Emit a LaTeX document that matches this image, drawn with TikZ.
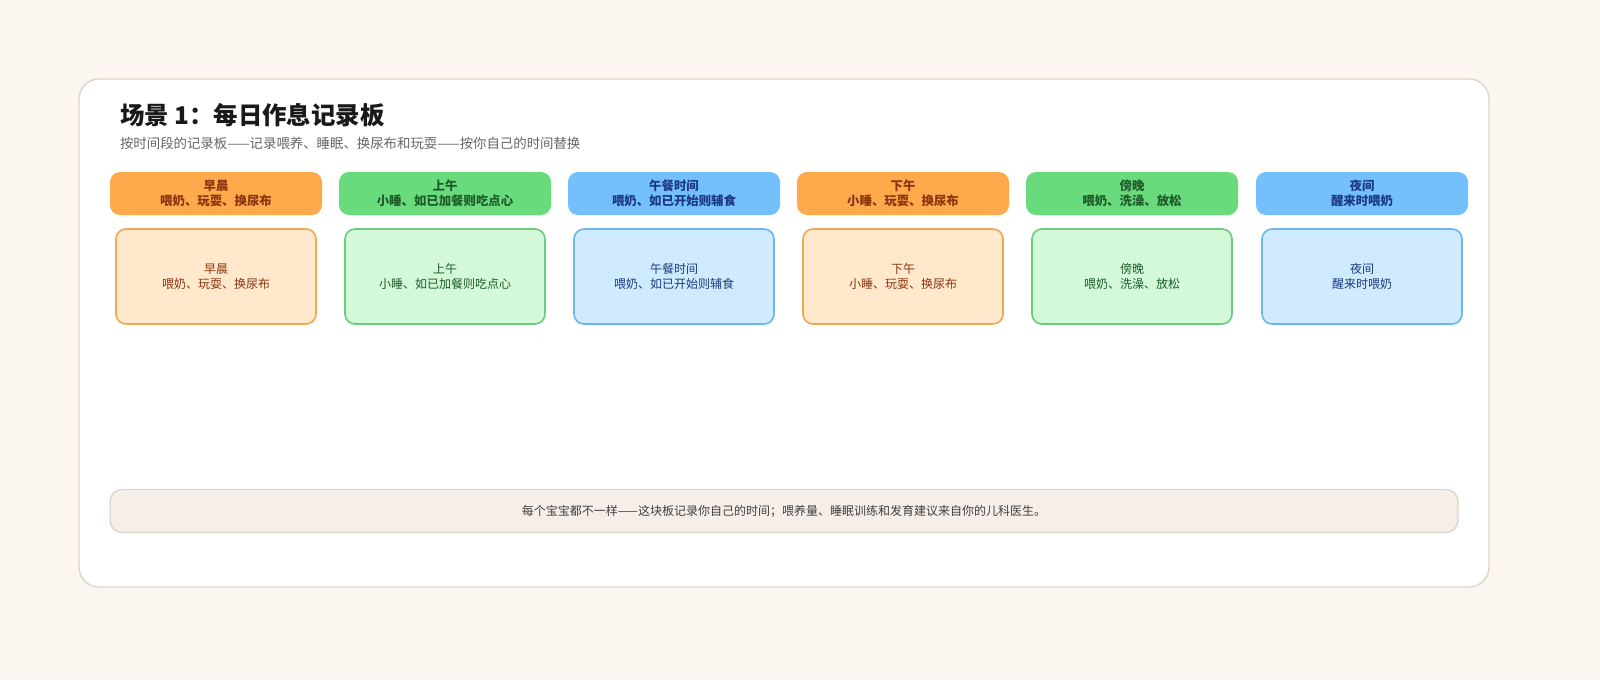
\documentclass[tikz,border=0pt]{standalone}
\usepackage{fontspec}
\setmainfont{Noto Sans CJK SC}
\definecolor{bg}{HTML}{FBF7F0}
\definecolor{pstroke}{HTML}{DDD5C8}
\definecolor{fbg}{HTML}{F5EFE8}
\definecolor{oh}{HTML}{FFA94D}\definecolor{oc}{HTML}{FFE8CC}\definecolor{os}{HTML}{F2A650}\definecolor{ot}{HTML}{8A3510}
\definecolor{gh}{HTML}{69DB7C}\definecolor{gc}{HTML}{D3F9D8}\definecolor{gs}{HTML}{6CCB7C}\definecolor{gt}{HTML}{1E5C2A}
\definecolor{bh}{HTML}{74C0FC}\definecolor{bc}{HTML}{D0EBFF}\definecolor{bs}{HTML}{6DB6EC}\definecolor{bt}{HTML}{1C3A80}
\begin{document}
\begin{tikzpicture}[x=0.5pt,y=-0.5pt,
 head/.style={rounded corners=5pt,minimum width=106pt,minimum height=21.5pt,align=center,font=\fontsize{6.2}{7.6}\selectfont\bfseries,inner sep=0pt},
 card/.style={rounded corners=5pt,line width=0.8pt,minimum width=100pt,minimum height=47.5pt,align=center,font=\fontsize{6}{7.5}\selectfont,inner sep=0pt}]
\path[use as bounding box] (0,0) rectangle (1600,680);
\fill[bg] (0,0) rectangle (1600,680);
\node[draw=pstroke,fill=white,rounded corners=10pt,line width=0.7pt,minimum width=705pt,minimum height=254pt,inner sep=0pt] (panel) at (784,333) {};
\node[anchor=west,font=\fontsize{12.2}{14}\selectfont\bfseries,text=black!90] (title) at (113,115) {场景 1：每日作息记录板};
\node[anchor=west,font=\fontsize{6.7}{8}\selectfont,text=black!60] (sub) at (113,143) {按时间段的记录板——记录喂养、睡眠、换尿布和玩耍——按你自己的时间替换};
\foreach \i/\x/\h/\c/\s/\t/\a/\b in {
 1/216/oh/oc/os/ot/早晨/{喂奶、玩耍、换尿布},
 2/445/gh/gc/gs/gt/上午/{小睡、如已加餐则吃点心},
 3/674/bh/bc/bs/bt/午餐时间/{喂奶、如已开始则辅食},
 4/903/oh/oc/os/ot/下午/{小睡、玩耍、换尿布},
 5/1132/gh/gc/gs/gt/傍晚/{喂奶、洗澡、放松},
 6/1362/bh/bc/bs/bt/夜间/{醒来时喂奶}}{
 \node[head,fill=\h,text=\t] (h\i) at (\x,193.5) {\a\\\b};
 \node[card,draw=\s,fill=\c,text=\t] (c\i) at (\x,276.5) {\a\\\b};
}
\node[draw=pstroke,fill=fbg,rounded corners=6pt,line width=0.7pt,minimum width=674pt,minimum height=21.5pt,inner sep=0pt,font=\fontsize{6}{7.5}\selectfont,text=black!75] (foot) at (784,511) {每个宝宝都不一样——这块板记录你自己的时间；喂养量、睡眠训练和发育建议来自你的儿科医生。};
\end{tikzpicture}
\end{document}
